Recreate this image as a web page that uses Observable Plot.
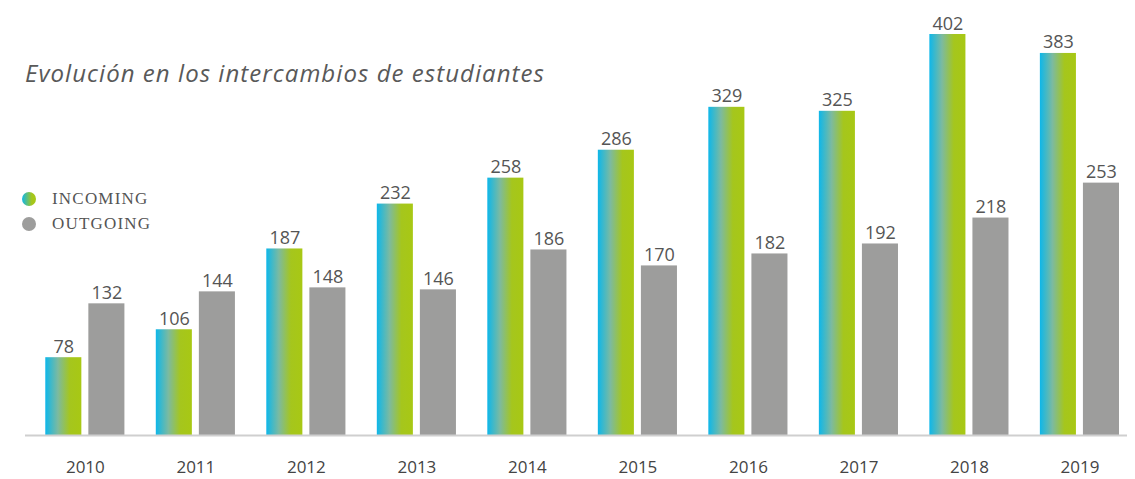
<!DOCTYPE html>
<html>
<head>
<meta charset="utf-8">
<script src="https://cdn.jsdelivr.net/npm/d3@7"></script>
<script src="https://cdn.jsdelivr.net/npm/@observablehq/plot@0.6"></script>
<style>
  html, body { margin: 0; padding: 0; background: #fff; }
  #wrap { position: relative; width: 1135px; height: 479px; overflow: hidden; }
  #title { position: absolute; left: 25px; top: 56px; font-family: "Open Sans", sans-serif; font-style: italic; font-size: 24px; letter-spacing: 1.05px; color: #595959; white-space: nowrap; }
  .leg { position: absolute; left: 22px; display: flex; align-items: center; font-family: "Liberation Serif", serif; font-size: 17px; letter-spacing: 1.2px; color: #555; }
  .dot { width: 14px; height: 14px; border-radius: 50%; margin-right: 16px; }
</style>
</head>
<body>
<div id="wrap">
  <div id="chart"></div>
  <div id="title">Evolución en los intercambios de estudiantes</div>
  <div class="leg" style="top:189px"><div class="dot" style="background:linear-gradient(to right,#0db7ea,#a5c61d 70%,#a8c814)"></div>INCOMING</div>
  <div class="leg" style="top:214px"><div class="dot" style="background:#9d9d9c"></div>OUTGOING</div>
</div>
<script>
const years = ["2010","2011","2012","2013","2014","2015","2016","2017","2018","2019"];
const incoming = [78, 106, 187, 232, 258, 286, 329, 325, 402, 383];
const outgoing = [132, 144, 148, 146, 186, 170, 182, 192, 218, 253];

const data = years.map((year, i) => ({year, incoming: incoming[i], outgoing: outgoing[i]}));

const W = 1135, H = 479, mL = 25, mR = 8;
const pI = 0.284, pO = 0.128;
const step = (W - mL - mR) / (years.length - pI + 2 * pO);
const bw = step * (1 - pI);
const gap = 7;
const inset = bw / 2 + gap / 2;
const off = bw / 4 + gap / 4;

const gradient = () => {
  const defs = d3.create("svg:defs");
  const g = defs.append("linearGradient").attr("id", "incGrad")
    .attr("x1", 0).attr("x2", 1).attr("y1", 0).attr("y2", 0);
  g.append("stop").attr("offset", "0%").attr("stop-color", "#0db7ea");
  g.append("stop").attr("offset", "35%").attr("stop-color", "#7cbaa0");
  g.append("stop").attr("offset", "68%").attr("stop-color", "#a5c61d");
  g.append("stop").attr("offset", "100%").attr("stop-color", "#a8c814");
  return defs.node();
};

const chart = Plot.plot({
  width: W,
  height: H,
  marginLeft: mL,
  marginRight: mR,
  marginTop: 34,
  marginBottom: 44,
  style: {fontFamily: "Open Sans, sans-serif", background: "transparent"},
  x: {domain: years, paddingInner: pI, paddingOuter: pO, align: 0.717, round: false, label: null},
  y: {domain: [0, 402], axis: null},
  marks: [
    gradient,
    Plot.barY(data, {x: "year", y: "incoming", fill: "url(#incGrad)", insetRight: inset}),
    Plot.barY(data, {x: "year", y: "outgoing", fill: "#9d9d9c", insetLeft: inset}),
    Plot.ruleY([0], {stroke: "#cfcfcf", strokeWidth: 2}),
    Plot.text(data, {x: "year", y: "incoming", text: d => String(d.incoming), dx: -off, dy: -5, lineAnchor: "bottom", fontSize: 18, fill: "#555"}),
    Plot.text(data, {x: "year", y: "outgoing", text: d => String(d.outgoing), dx: off, dy: -5, lineAnchor: "bottom", fontSize: 18, fill: "#555"}),
    Plot.axisX({tickSize: 0, tickPadding: 25, fontSize: 17, color: "#444", label: null})
  ]
});
document.getElementById("chart").appendChild(chart);
</script>
</body>
</html>
